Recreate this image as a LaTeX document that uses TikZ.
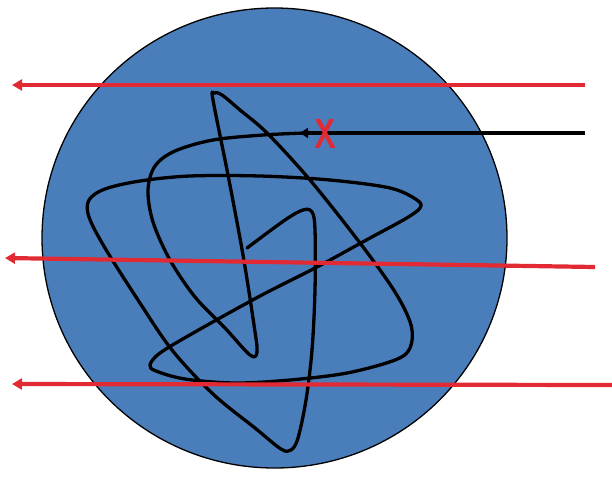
\documentclass[tikz,border=0pt]{standalone}
\usetikzlibrary{arrows.meta,shapes.geometric}
\definecolor{ballblue}{RGB}{74,126,187}
\definecolor{rayred}{RGB}{226,42,52}
\begin{document}
\begin{tikzpicture}[x=1pt,y=-1pt,
  ray/.style={draw=rayred,line width=4.2pt,-{Triangle[length=10pt,width=11pt]}},
  chain/.style={draw=black,line width=3.3pt,line join=round,line cap=round}]
\useasboundingbox (0,0) rectangle (612,477);
\node[draw=black,line width=1.3pt,fill=ballblue,ellipse,minimum width=465pt,minimum height=460pt,inner sep=0pt] (ball) at (274.5,238) {};
\path[chain] plot[smooth,tension=0.55] coordinates {
(305,133) (263,135) (213,140) (175,151) (155,166) (148,190) (153,222) (170,260) (195,297) (225,328) (250,355) (257,352) (254,325) (243,255) (228,175) (213,100) (214,93) (222,95) (240,110) (267,133) (310,180) (360,243) (395,292) (411,325) (410,348) (395,360) (347,373) (290,380) (235,383) (185,379) (156,371) (150,365) (160,353) (195,332) (260,296) (317,267) (370,238) (405,219) (420,208) (417,200) (390,188) (330,180) (260,176) (190,176) (140,181) (105,189) (89,200) (89,217) (105,248) (138,300) (172,350) (213,394) (255,428) (281,449) (291,450) (298,438) (306,400) (312,350) (315,290) (315,230) (312,212) (303,210) (285,220) (247,248)};
\coordinate (bs) at (585,133);
\coordinate (bt) at (300,133);
\draw[draw=black,line width=3.2pt,-{Triangle[length=8pt,width=10pt]}] (bs) -- (bt);
\node[text=rayred,font=\sffamily\bfseries\fontsize{42}{42}\selectfont,inner sep=0pt,xscale=0.72] (x) at (326,134) {X};
\coordinate (r1s) at (585,85);
\coordinate (r1e) at (12,85);
\coordinate (r2s) at (595,267);
\coordinate (r2e) at (5,258);
\coordinate (r3s) at (612,385);
\coordinate (r3e) at (12,384);
\draw[ray] (r1s) -- (r1e);
\draw[ray] (r2s) -- (r2e);
\draw[ray] (r3s) -- (r3e);
\end{tikzpicture}
\end{document}
